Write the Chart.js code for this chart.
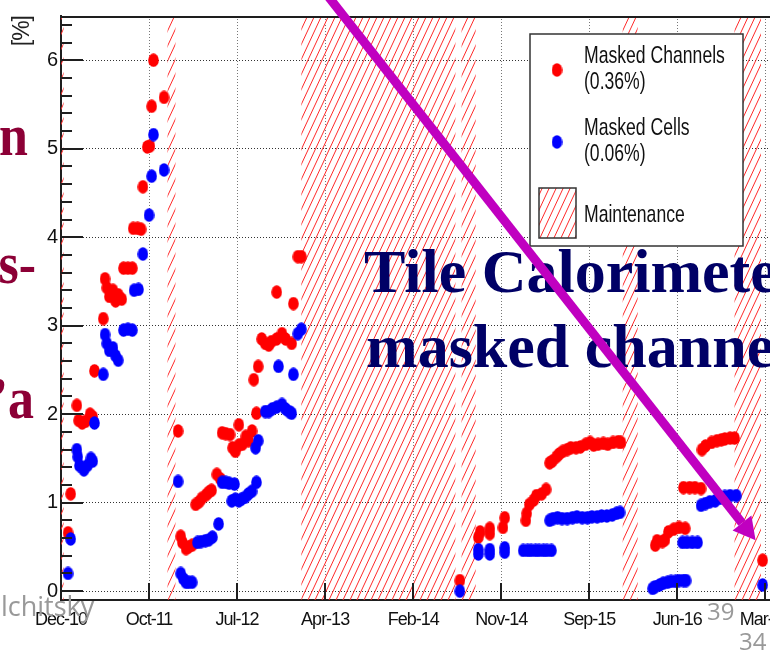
<!DOCTYPE html>
<html>
<head>
<meta charset="utf-8">
<script src="https://cdn.jsdelivr.net/npm/chart.js@4.4.1/dist/chart.umd.min.js"></script>
<style>
  html, body { margin: 0; padding: 0; background: #fff; overflow: hidden; }
  #wrap { position: relative; width: 770px; height: 652px; overflow: hidden; }
  #chart, #overlay { position: absolute; left: 0; top: 0; }
</style>
</head>
<body>
<div id="wrap">
  <canvas id="chart" width="840" height="652"></canvas>
  <svg id="overlay" width="770" height="652" viewBox="0 0 770 652">
    <!-- slide text peeking out on the left -->
    <g font-family="'Liberation Serif', 'Times New Roman', serif" font-weight="bold" fill="#8c0036" font-size="52">
      <text transform="translate(28,155) scale(1,1.12)" text-anchor="end">n</text>
      <text transform="translate(36,283) scale(1,1.12)" text-anchor="end">s-</text>
      <text transform="translate(34,418) scale(1,1.12)" text-anchor="end">’a</text>
    </g>
    <!-- slide title over the chart -->
    <g font-family="'Liberation Serif', 'Times New Roman', serif" font-weight="bold" fill="#000066" font-size="62">
      <text x="364" y="292">Tile Calorimeter</text>
      <text x="366" y="367">masked channels</text>
    </g>
    <g font-family="'Open Sans', 'Noto Sans', sans-serif" fill="#999">
      <text x="1" y="616" font-size="27">lchitsky</text>
      <text x="707" y="620" font-size="24">39</text>
      <text x="739" y="650" font-size="24">34</text>
    </g>
    <!-- arrow -->
    <line x1="321.6" y1="-12" x2="742" y2="523" stroke="#c000c0" stroke-width="9"/>
    <polygon points="755.6,540.3 751.4,515.6 732.6,530.4" fill="#c000c0"/>
  </svg>
</div>
<script>
// x is in axis-tick units: tick i sits at xTickLabels[i]
const xTickLabels = ['Dec-10', 'Oct-11', 'Jul-12', 'Apr-13', 'Feb-14', 'Nov-14', 'Sep-15', 'Jun-16', 'Mar-17'];
const yTickValues = [0, 1, 2, 3, 4, 5, 6];

const legendNames = ['Masked Channels', 'Masked Cells', 'Maintenance'];
const legendAverages = ['(0.36%)', '(0.06%)'];

// maintenance periods (hatched)
const maintenanceStart = [-0.2, 1.21, 2.73, 4.55, 6.38, 7.65];
const maintenanceEnd   = [0.03, 1.30, 4.48, 4.71, 6.55, 7.95];

// masked channels [%]
const channelX = [
  0.08, 0.11, 0.18, 0.20, 0.24, 0.28, 0.33, 0.36, 0.38, 0.48, 0.50, 0.52, 0.55, 0.59, 0.62, 0.65, 0.69, 0.71, 0.76, 0.81,
  0.82, 0.87, 0.91, 0.93, 0.98, 1.01, 1.03, 1.05, 1.17,
  1.33, 1.36, 1.38, 1.42, 1.45, 1.49, 1.53, 1.57, 1.60, 1.65, 1.68, 1.71, 1.77, 1.81, 1.83, 1.87, 1.92, 1.95, 1.98, 2.02,
  2.02, 2.06, 2.10, 2.13, 2.17, 2.19, 2.22, 2.24, 2.28, 2.32, 2.36, 2.39, 2.45, 2.45, 2.51, 2.55, 2.62, 2.64, 2.69, 2.73,
  4.53,
  4.74, 4.76, 4.87, 4.87, 5.02, 5.04, 5.28, 5.29, 5.32, 5.37, 5.40, 5.46, 5.51, 5.55, 5.58, 5.63, 5.66, 5.70, 5.75, 5.79,
  5.85, 5.90, 5.96, 6.01, 6.05, 6.10, 6.16, 6.21, 6.27, 6.33, 6.36,
  6.75, 6.77, 6.83, 6.86, 6.90, 6.96, 7.02, 7.09, 7.07, 7.14, 7.20, 7.27, 7.28, 7.32, 7.39, 7.45, 7.50, 7.54, 7.60, 7.65,
  7.97
];
const channelY = [
  0.66, 1.10, 2.10, 1.93, 1.90, 1.92, 2.00, 1.97, 2.49, 3.08, 3.53, 3.43, 3.33, 3.40, 3.28, 3.35, 3.30, 3.65, 3.65, 3.65,
  4.10, 4.10, 4.09, 4.57, 5.02, 5.03, 5.48, 6.00, 5.58,
  1.81, 0.62, 0.55, 0.48, 0.50, 0.52, 0.98, 1.01, 1.05, 1.09, 1.12, 1.14, 1.32, 1.27, 1.79, 1.78, 1.77, 1.62, 1.58, 1.88,
  1.65, 1.66, 1.75, 1.70, 1.81, 2.39, 2.01, 2.54, 2.85, 2.80, 2.78, 2.82, 2.85, 3.38, 2.91, 2.85, 2.80, 3.25, 3.78, 3.78,
  0.12,
  0.61, 0.67, 0.65, 0.71, 0.72, 0.83, 0.80, 0.88, 0.98, 1.03, 1.08, 1.10, 1.15, 1.45, 1.47, 1.52, 1.55, 1.58, 1.60, 1.62,
  1.62, 1.63, 1.66, 1.68, 1.65, 1.66, 1.67, 1.66, 1.68, 1.69, 1.68,
  0.52, 0.57, 0.56, 0.58, 0.67, 0.70, 0.72, 0.71, 1.17, 1.17, 1.17, 1.16, 1.60, 1.64, 1.68, 1.70, 1.71, 1.72, 1.73, 1.73,
  0.35
];

// masked cells [%]
const cellX = [
  0.08, 0.11, 0.18, 0.19, 0.21, 0.26, 0.30, 0.34, 0.36, 0.38, 0.48, 0.50, 0.52, 0.55, 0.59, 0.62, 0.65, 0.71, 0.76, 0.81,
  0.83, 0.88, 0.93, 1.00, 1.03, 1.05, 1.17,
  1.33, 1.36, 1.39, 1.42, 1.45, 1.49, 1.55, 1.59, 1.64, 1.68, 1.72, 1.79, 1.83, 1.87, 1.91, 1.94, 1.97, 1.98, 2.02, 2.05,
  2.09, 2.13, 2.17, 2.21, 2.22, 2.24, 2.32, 2.36, 2.40, 2.45, 2.51, 2.55, 2.59, 2.62, 2.47, 2.64, 2.69, 2.73,
  4.53,
  4.74, 4.74, 4.87, 4.87, 5.04, 5.04, 5.25, 5.30, 5.34, 5.39, 5.43, 5.48, 5.52, 5.57,
  5.55, 5.59, 5.64, 5.69, 5.75, 5.81, 5.86, 5.92, 5.98, 6.03, 6.09, 6.14, 6.20, 6.26, 6.31, 6.35,
  6.72, 6.75, 6.80, 6.84, 6.89, 6.93, 6.98, 7.02, 7.07, 7.10, 7.06, 7.11, 7.17, 7.23, 7.27, 7.32, 7.37, 7.43, 7.49, 7.54,
  7.60, 7.67,
  7.97
];
const cellY = [
  0.20, 0.59, 1.60, 1.52, 1.42, 1.37, 1.42, 1.50, 1.47, 1.90, 2.45, 2.90, 2.80, 2.72, 2.75, 2.66, 2.61, 2.95, 2.96, 2.95,
  3.40, 3.41, 3.81, 4.25, 4.69, 5.16, 4.76,
  1.24, 0.20, 0.14, 0.10, 0.10, 0.10, 0.55, 0.56, 0.57, 0.58, 0.61, 0.76, 1.23, 1.23, 1.22, 1.02, 1.21, 1.04, 1.02, 1.04,
  1.06, 1.10, 1.13, 1.62, 1.23, 1.70, 2.03, 2.03, 2.06, 2.08, 2.11, 2.06, 2.03, 2.01, 2.54, 2.45, 2.91, 2.96,
  0.00,
  0.42, 0.47, 0.42, 0.47, 0.44, 0.49, 0.46, 0.46, 0.46, 0.46, 0.46, 0.46, 0.46, 0.46,
  0.80, 0.82, 0.83, 0.82, 0.82, 0.83, 0.84, 0.83, 0.83, 0.84, 0.84, 0.85, 0.85, 0.86, 0.88, 0.89,
  0.03, 0.05, 0.07, 0.09, 0.10, 0.11, 0.11, 0.12, 0.12, 0.12, 0.55, 0.55, 0.55, 0.55, 0.97, 0.99, 1.01, 1.02, 1.05, 1.07,
  1.08, 1.08,
  0.07
];

const RED = '#ff0000';
const BLUE = '#0000ff';
const HATCH = '#ff2a2a';
const AXIS = '#1e1e1e';
const SANS = '"Liberation Sans", Arial, sans-serif';

// ROOT markers look a bit taller than wide in the screenshot
function ellipseDot(color) {
  const c = document.createElement('canvas');
  c.width = 11; c.height = 14;
  const g = c.getContext('2d');
  g.fillStyle = color;
  g.beginPath();
  g.ellipse(5.5, 7, 5.3, 6.8, 0, 0, Math.PI * 2);
  g.fill();
  return c;
}

let hatch = null;
function hatchPattern(ctx) {
  if (hatch) return hatch;
  const w = 7, h = 15;
  const c = document.createElement('canvas');
  c.width = w; c.height = h;
  const g = c.getContext('2d');
  g.strokeStyle = HATCH;
  g.lineWidth = 1;
  for (const dx of [-w, 0, w]) {
    g.beginPath(); g.moveTo(dx, h); g.lineTo(dx + w, 0); g.stroke();
  }
  hatch = ctx.createPattern(c, 'repeat');
  return hatch;
}

const channelDot = ellipseDot(RED);
const cellDot = ellipseDot(BLUE);

// ROOT's Helvetica is narrow: tighten all axis text a little
const narrowText = {
  id: 'narrowText',
  beforeDraw(chart) { chart.ctx.letterSpacing = '-1px'; },
};

// ── hatched maintenance bands ──
const maintenanceBands = {
  id: 'maintenanceBands',
  beforeDatasetsDraw(chart) {
    const { ctx, chartArea: a, scales: { x } } = chart;
    ctx.save();
    ctx.beginPath();
    ctx.rect(a.left, a.top, a.right - a.left, a.bottom - a.top);
    ctx.clip();
    ctx.fillStyle = hatchPattern(ctx);
    maintenanceStart.forEach((s, i) => {
      const x0 = x.getPixelForValue(s);
      const x1 = x.getPixelForValue(maintenanceEnd[i]);
      ctx.fillRect(x0, a.top, x1 - x0, a.bottom - a.top);
    });
    ctx.restore();
  }
};

// ── ROOT style frame: top line and inward ticks ──
const rootFrame = {
  id: 'rootFrame',
  afterDatasetsDraw(chart) {
    const { ctx, chartArea: a, scales: { x, y } } = chart;
    ctx.save();
    ctx.strokeStyle = AXIS;
    ctx.lineWidth = 2;
    ctx.beginPath();
    ctx.moveTo(a.left - 1, a.top + 1);
    ctx.lineTo(a.right, a.top + 1);
    for (let k = 0; k * 0.2 <= y.max; k++) {
      const py = Math.round(y.getPixelForValue(k * 0.2));
      const len = k % 5 === 0 ? 22 : 11;
      ctx.moveTo(a.left, py);
      ctx.lineTo(a.left + len, py);
    }
    x.ticks.forEach(t => {
      const px = Math.round(x.getPixelForValue(t.value));
      ctx.moveTo(px, a.bottom);
      ctx.lineTo(px, a.bottom - 17);
    });
    ctx.stroke();
    ctx.restore();
  }
};

// ── legend box ──
const rootLegend = {
  id: 'rootLegend',
  afterDraw(chart) {
    const ctx = chart.ctx;
    ctx.save();
    ctx.fillStyle = '#fff';
    ctx.fillRect(530, 34, 213, 212);
    ctx.strokeStyle = '#333';
    ctx.lineWidth = 1.5;
    ctx.strokeRect(530, 34, 213, 212);

    ctx.drawImage(channelDot, 557 - 5.5, 70 - 7);
    ctx.drawImage(cellDot, 557 - 5.5, 142 - 7);

    ctx.fillStyle = hatchPattern(ctx);
    ctx.fillRect(539, 188, 37, 50);
    ctx.lineWidth = 1.5;
    ctx.strokeRect(539, 188, 37, 50);

    ctx.fillStyle = '#111';
    ctx.letterSpacing = '0px';
    ctx.font = '22px ' + SANS;
    ctx.textBaseline = 'alphabetic';
    const lines = [
      [legendNames[0], 63], [legendAverages[0], 89],
      [legendNames[1], 135], [legendAverages[1], 161],
      [legendNames[2], 222],
    ];
    lines.forEach(([txt, base]) => {
      ctx.save();
      ctx.translate(584, base);
      ctx.scale(0.8, 1.1);
      ctx.fillText(txt, 0, 0);
      ctx.restore();
    });
    ctx.restore();
  }
};

new Chart(document.getElementById('chart'), {
  type: 'scatter',
  data: {
    datasets: [
      {
        label: legendNames[1],
        data: cellX.map((v, i) => ({ x: v, y: cellY[i] })),
        pointStyle: cellDot,
        pointRadius: 5,
        order: 0,
      },
      {
        label: legendNames[0],
        data: channelX.map((v, i) => ({ x: v, y: channelY[i] })),
        pointStyle: channelDot,
        pointRadius: 5,
        order: 1,
      },
    ],
  },
  options: {
    responsive: false,
    animation: false,
    devicePixelRatio: 1,
    layout: { padding: { top: 12, left: 0, right: 0, bottom: 0 } },
    plugins: { legend: { display: false }, tooltip: { enabled: false } },
    scales: {
      x: {
        type: 'linear',
        min: 0,
        max: 8.78,
        afterBuildTicks: s => { s.ticks = xTickLabels.map((_, i) => ({ value: i })); },
        afterFit: s => { s.height = 52; },
        ticks: {
          callback: v => xTickLabels[Math.round(v)],
          color: '#111',
          font: { family: SANS, size: 18 },
          padding: 9,
          maxRotation: 0,
          autoSkip: false,
        },
        grid: { color: '#777', drawTicks: false },
        border: { color: AXIS, width: 2, dash: [1, 2] },
      },
      y: {
        min: -0.1,
        max: 6.5,
        afterBuildTicks: s => { s.ticks = yTickValues.map(v => ({ value: v })); },
        afterFit: s => { s.width = 61; },
        ticks: { color: '#111', font: { family: SANS, size: 20 }, padding: 4 },
        grid: { color: '#333', drawTicks: false },
        border: { color: AXIS, width: 2, dash: [1, 2] },
        title: {
          display: true,
          text: '[%]',
          align: 'end',
          color: '#222',
          font: { family: SANS, size: 23 },
          padding: { top: 9, bottom: 0 },
        },
      },
    },
  },
  plugins: [narrowText, maintenanceBands, rootFrame, rootLegend],
});
</script>
</body>
</html>
